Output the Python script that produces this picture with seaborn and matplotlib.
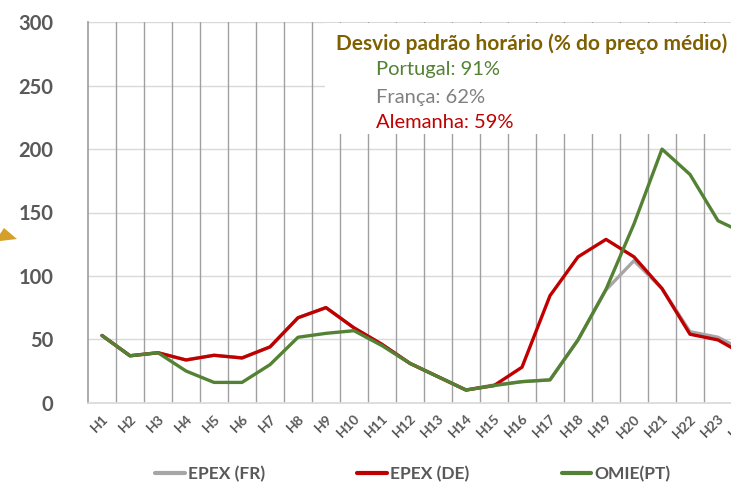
import numpy as np
import pandas as pd
import seaborn as sns
import matplotlib
matplotlib.use("Agg")
from matplotlib import pyplot as plt
from matplotlib.patches import Rectangle, Polygon
from matplotlib.lines import Line2D

sns.set_theme(style="white")
plt.rcParams['font.family'] = ['Lato', 'DejaVu Sans']

horas = ['H' + str(i) for i in range(1, 25)]

epex_fr = [53, 37, 39.4, 33.7, 37.4, 35.3, 44, 67, 75, 59, 46, 31, 20.5, 10,
           14, 16.6, 18, 49.5, 89, 112, 90, 56, 51.6, 40]
epex_de = [53, 37, 39.4, 33.7, 37.4, 35.3, 44, 67, 75, 59, 46, 31, 20.5, 10,
           13.5, 28, 84.4, 115, 128.8, 115, 90, 54, 49.5, 37]
omie_pt = [53, 37, 39.4, 25, 16, 16, 30, 51.6, 54.7, 56.8, 45, 31, 20.5, 10,
           13.5, 16.6, 18, 49.5, 89.4, 141, 200, 180, 143.5, 133]

series = ['EPEX (FR)', 'EPEX (DE)', 'OMIE(PT)']
cores = {'EPEX (FR)': '#A6A6A6', 'EPEX (DE)': '#C00000', 'OMIE(PT)': '#548235'}

dados = pd.DataFrame({
    'hora': horas * 3,
    'pos': list(range(24)) * 3,
    'valor': epex_fr + epex_de + omie_pt,
    'serie': [series[0]] * 24 + [series[1]] * 24 + [series[2]] * 24,
})

fig = plt.figure(figsize=(7.31, 4.82), dpi=100)
ax = fig.add_axes([88/731, 1 - 402.7/482, (760 - 88)/731, (402.7 - 22.3)/482])

sns.lineplot(data=dados, x='pos', y='valor', hue='serie', hue_order=series,
             palette=cores, linewidth=2.4, sort=False, legend=False, ax=ax)

ax.set_xlim(-0.5, 23.5)
ax.set_ylim(0, 300)
ax.set_yticks(range(0, 301, 50))
ax.set_xticks(range(24))
ax.set_xticklabels(horas, rotation=45, ha='right', rotation_mode='anchor')
ax.set_xlabel('')
ax.set_ylabel('')

for k in range(1, 24):
    ax.axvline(k - 0.5, color='#A0A0A0', lw=1.0, zorder=0.5)
for v in range(50, 301, 50):
    ax.axhline(v, color='#D9D9D9', lw=1.0, zorder=0.4)

for s in ['top', 'right']:
    ax.spines[s].set_visible(False)
ax.spines['left'].set_color('#A0A0A0')
ax.spines['bottom'].set_color('#D9D9D9')

ax.tick_params(axis='y', length=0, pad=25, labelsize=14.5, labelcolor='#595959')
ax.tick_params(axis='x', length=0, pad=7, labelsize=10, labelcolor='#595959')
for t in ax.get_yticklabels() + ax.get_xticklabels():
    t.set_fontweight('bold')

# caixa branca com o texto
fig.patches.append(Rectangle((325/731, 1 - 134/482), 420/731, 111/482,
                             transform=fig.transFigure, facecolor='white',
                             edgecolor='none', zorder=1))
fig.text(336/731, 1 - 44/482, 'Desvio padrão horário (% do preço médio)',
         color='#7F6000', fontsize=15, fontweight='bold', va='center', zorder=3)
fig.text(376/731, 1 - 70/482, 'Portugal: 91%', color='#548235',
         fontsize=14.5, va='center', zorder=3)
fig.text(376/731, 1 - 97/482, 'França: 62%', color='#808080',
         fontsize=14.5, va='center', zorder=3)
fig.text(376/731, 1 - 123/482, 'Alemanha: 59%', color='#C00000',
         fontsize=14.5, va='center', zorder=3)

# seta cortada na margem esquerda
fig.patches.append(Polygon([(0, 1 - 234/482), (4/731, 1 - 228/482),
                            (17/731, 1 - 239/482), (0, 1 - 241/482)],
                           closed=True, transform=fig.transFigure,
                           facecolor='#D4A02A', edgecolor='none', zorder=2))

handles = [Line2D([], [], color=cores[s], lw=3) for s in series]
leg = fig.legend(handles, series, loc='center', bbox_to_anchor=(413/731, 1 - 474/482),
                 ncol=3, frameon=False, handlelength=1.7, handletextpad=0.2,
                 columnspacing=5.3, prop={'weight': 'bold', 'size': 12.5})
for t in leg.get_texts():
    t.set_color('#595959')

fig.savefig('out.png', dpi=100)
